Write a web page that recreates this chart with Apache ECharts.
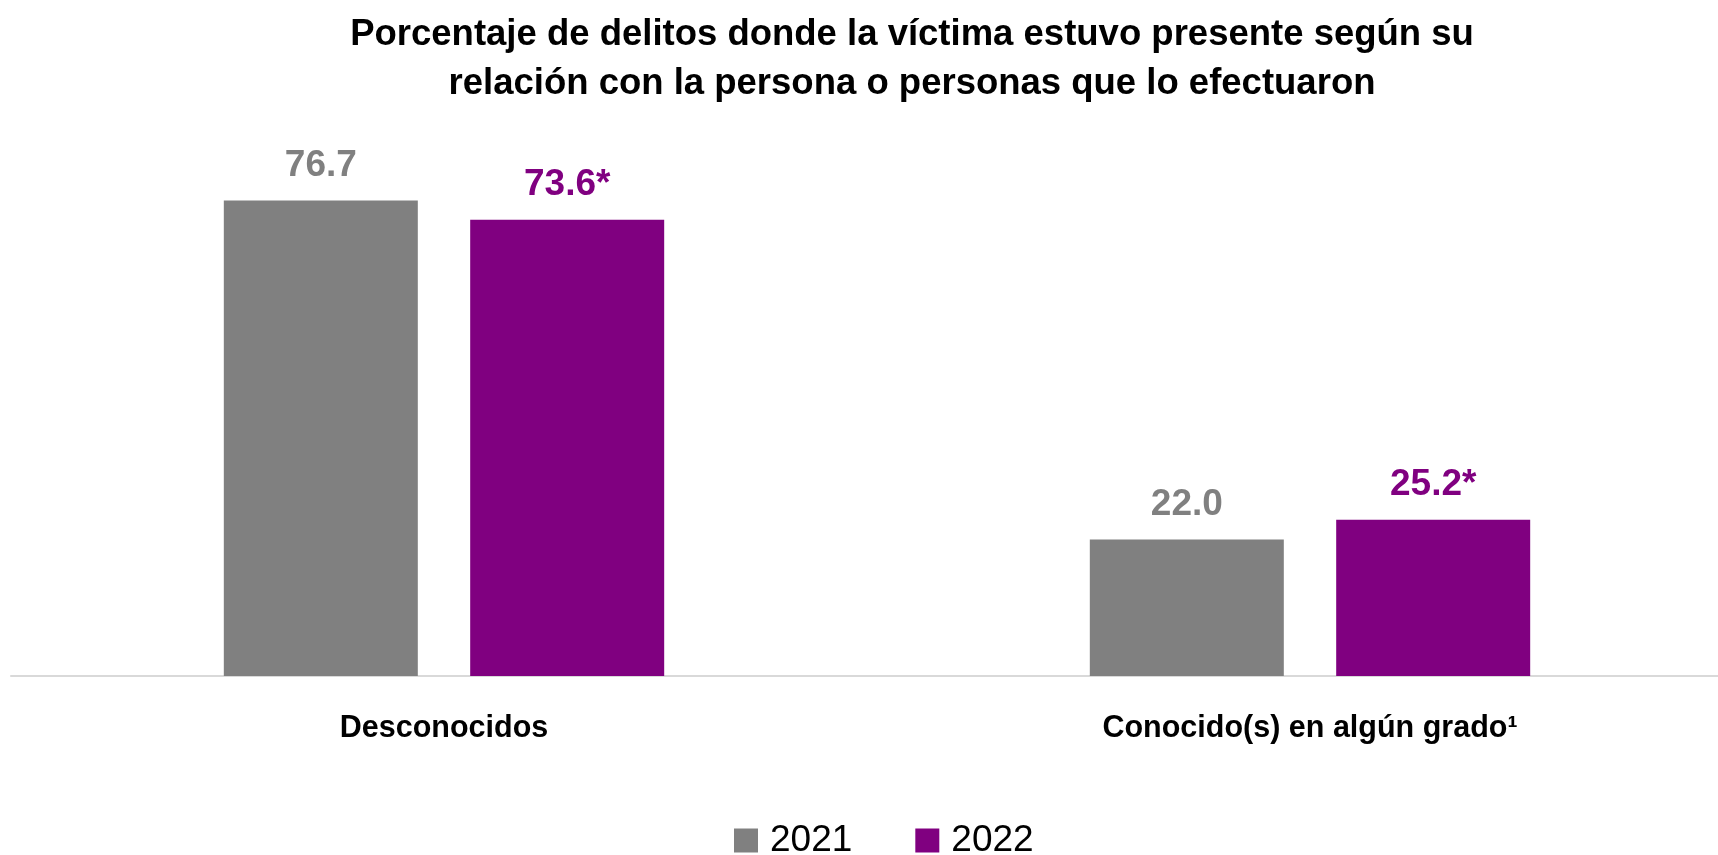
<html>
<head>
    <meta charset="utf-8" />
    <script src="https://cdn.jsdelivr.net/npm/echarts@6/dist/echarts.min.js"></script>
    <style>
        html, body { margin: 0; padding: 0; background: #fff; overflow: hidden; }
        /* el eje continua un poco fuera de la ventana, como en el original */
        #chart { width: 1743px; height: 855px; }
    </style>
</head>
<body>
    <div id="chart"></div>
    <script>
        // datos
        var categories = ['Desconocidos', 'Conocido(s) en algún grado¹']
        var years = ['2021', '2022']
        var values2021 = [76.7, 22.0]
        var values2022 = [73.6, 25.2]
        var marks2021 = ['', '']
        var marks2022 = ['*', '*']

        var gray = '#808080'
        var purple = '#800080'
        var font = 'Liberation Sans'

        function barLabel(color, marks) {
            return {
                show: true,
                position: 'top',
                distance: 16,
                color: color,
                fontFamily: font,
                fontWeight: 'bold',
                fontSize: 37,
                lineHeight: 37,
                formatter: function (p) {
                    return p.value.toFixed(1) + marks[p.dataIndex]
                }
            }
        }

        var option = {
            animation: false,
            title: {
                text: 'Porcentaje de delitos donde la víctima estuvo presente según su\nrelación con la persona o personas que lo efectuaron',
                left: 912,
                top: 10,
                padding: 0,
                textAlign: 'center',
                textStyle: {
                    fontFamily: font,
                    fontWeight: 'bold',
                    fontSize: 36.5,
                    lineHeight: 49.5,
                    color: '#000'
                }
            },
            legend: {
                data: years,
                left: 734,
                top: 822,
                padding: 0,
                itemWidth: 24,
                itemHeight: 24,
                itemGap: 63,
                icon: 'rect',
                textStyle: {
                    fontFamily: font,
                    fontSize: 37,
                    lineHeight: 37,
                    color: '#000',
                    padding: [0, 0, 0, 7]
                }
            },
            grid: {
                left: 11,
                right: 0,
                top: 56,
                height: 620,
                containLabel: false
            },
            xAxis: {
                type: 'category',
                data: categories,
                axisLine: { lineStyle: { color: '#d9d9d9', width: 2 } },
                axisTick: { show: false },
                axisLabel: {
                    margin: 37,
                    color: '#000',
                    fontFamily: font,
                    fontWeight: 'bold',
                    fontSize: 30.5,
                    lineHeight: 31
                }
            },
            yAxis: {
                type: 'value',
                min: 0,
                max: 100,
                show: false,
                splitLine: { show: false }
            },
            series: [
                {
                    name: years[0],
                    type: 'bar',
                    data: values2021,
                    barWidth: 194,
                    barGap: '27%',
                    itemStyle: { color: gray },
                    label: barLabel(gray, marks2021)
                },
                {
                    name: years[1],
                    type: 'bar',
                    data: values2022,
                    barWidth: 194,
                    barGap: '27%',
                    itemStyle: { color: purple },
                    label: barLabel(purple, marks2022)
                }
            ]
        }

        var chart = echarts.init(document.getElementById('chart'))
        chart.setOption(option)
    </script>
</body>
</html>
